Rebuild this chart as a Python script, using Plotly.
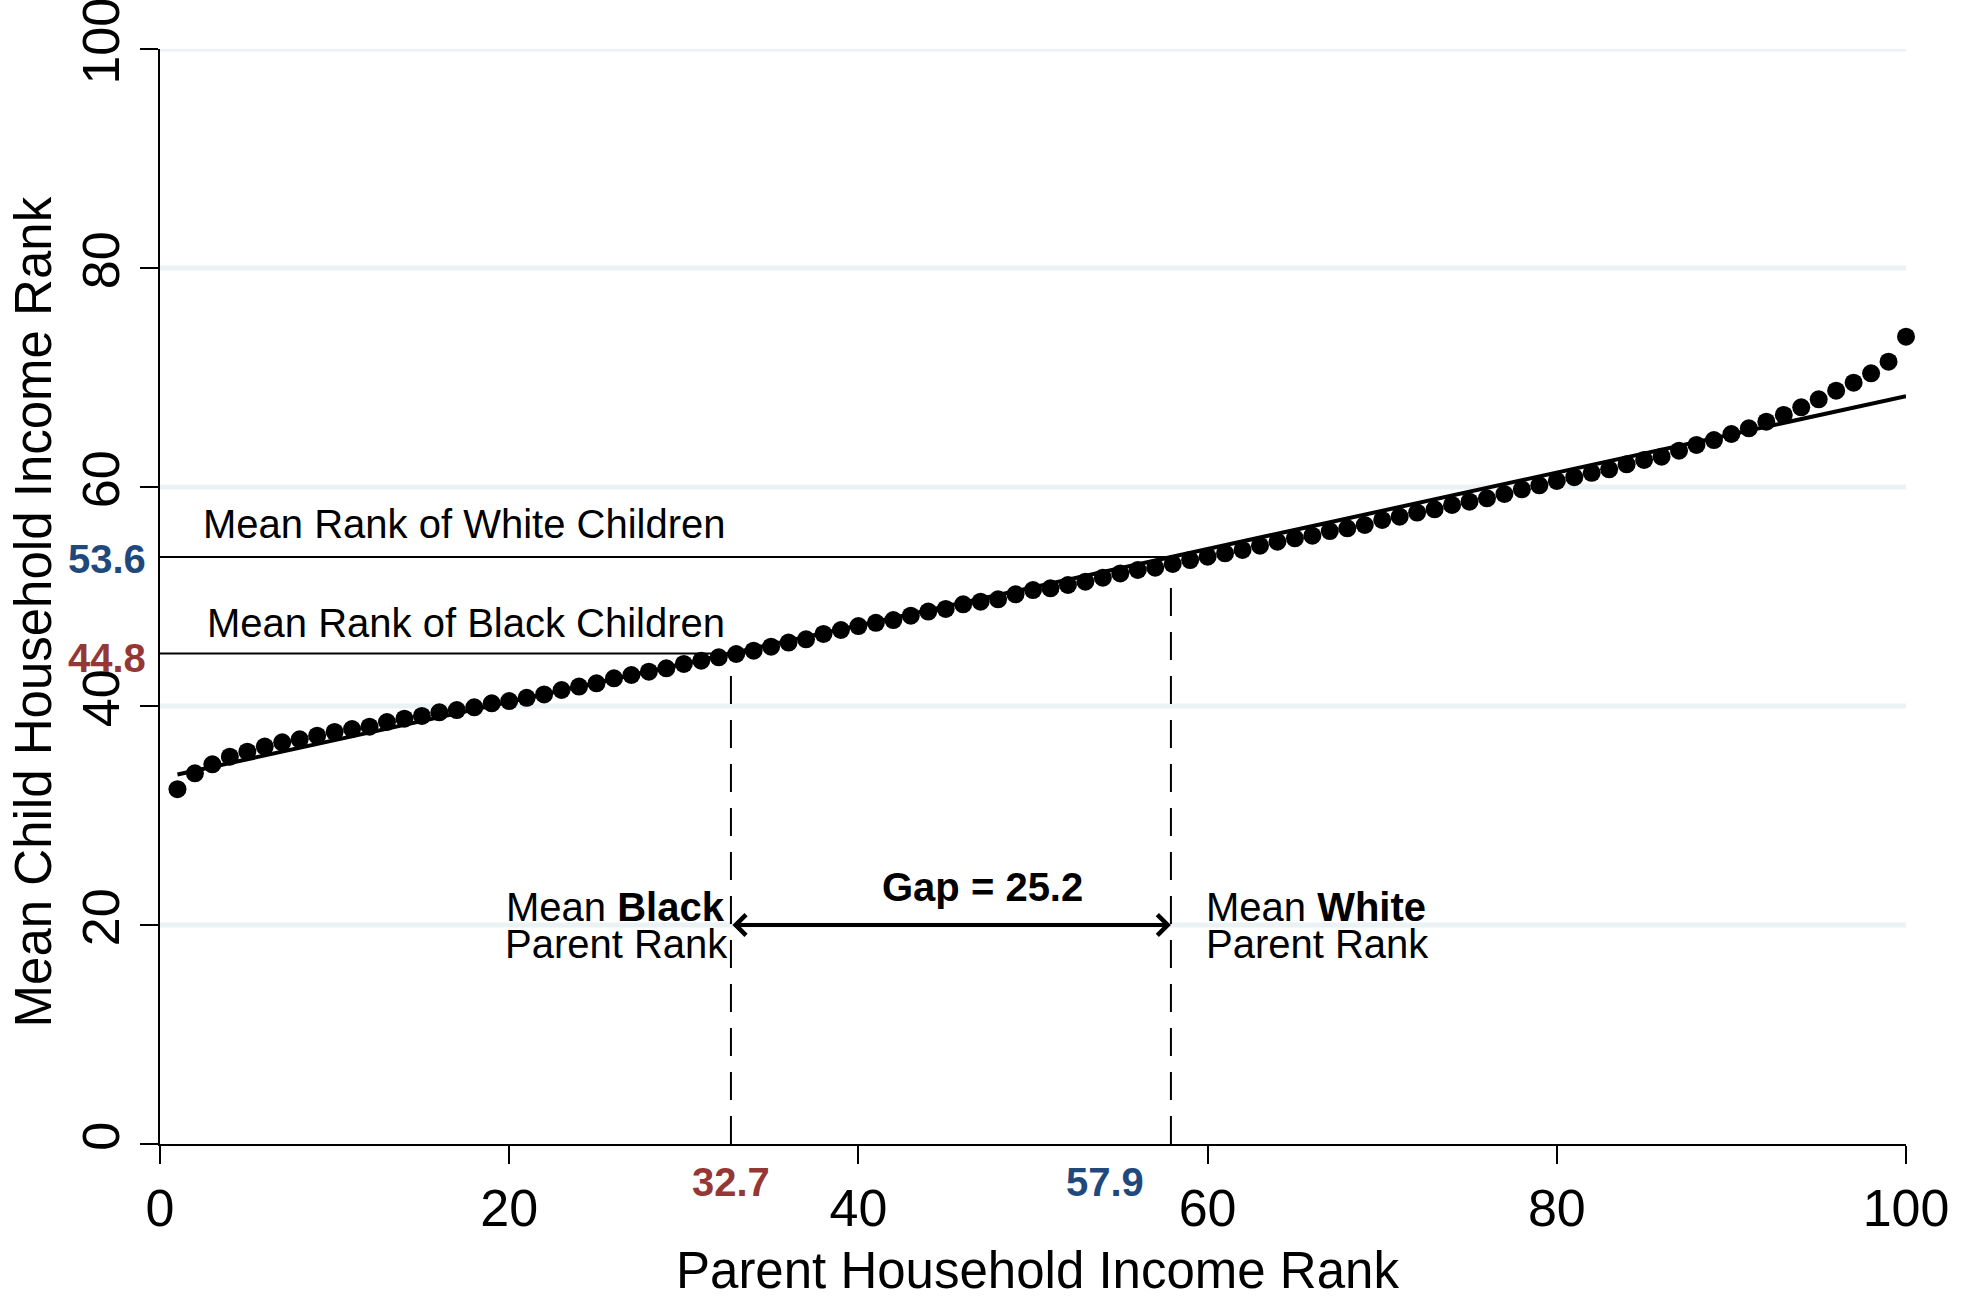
import plotly.graph_objects as go

# ---------------- data ----------------
parent_rank = list(range(1, 101))
child_rank = [
    32.4, 33.85, 34.67, 35.37, 35.83, 36.29, 36.68, 36.96, 37.29, 37.63,
    37.9, 38.11, 38.54, 38.84, 39.09, 39.42, 39.63, 39.88, 40.24, 40.45,
    40.75, 41.06, 41.46, 41.77, 42.07, 42.53, 42.83, 43.13, 43.44, 43.84,
    44.14, 44.45, 44.75, 45.05, 45.42, 45.79, 46.09, 46.58, 46.94, 47.3,
    47.6, 47.85, 48.25, 48.62, 48.86, 49.29, 49.53, 49.74, 50.2, 50.59,
    50.75, 51.05, 51.35, 51.72, 52.11, 52.42, 52.63, 52.97, 53.33, 53.64,
    53.94, 54.25, 54.64, 55.0, 55.31, 55.55, 55.98, 56.23, 56.53, 56.99,
    57.29, 57.66, 57.96, 58.36, 58.66, 58.97, 59.36, 59.79, 60.15, 60.55,
    60.9, 61.3, 61.61, 62.07, 62.47, 62.77, 63.32, 63.84, 64.29, 64.84,
    65.36, 65.97, 66.58, 67.28, 68.01, 68.8, 69.53, 70.38, 71.44, 73.73,
]
fit_x = [1, 100]
fit_y = [33.74, 68.3]

black_parent_mean = 32.7
white_parent_mean = 57.9
black_child_mean = 44.8
white_child_mean = 53.6
gap = 25.2
arrow_y = 20

tick_vals = [0, 20, 40, 60, 80, 100]
grid_vals = [20, 40, 60, 80, 100]

x_title = "Parent Household Income Rank"
y_title = "Mean Child Household Income Rank"

BLUE = "#1F497D"
RED = "#953735"
FONT = "Liberation Sans, Arial, sans-serif"

fig = go.Figure()

fig.add_trace(go.Scatter(
    x=fit_x, y=fit_y, mode="lines",
    line=dict(color="black", width=4), showlegend=False, hoverinfo="skip",
))
fig.add_trace(go.Scatter(
    x=parent_rank, y=child_rank, mode="markers",
    marker=dict(color="black", size=18, line=dict(width=0)),
    showlegend=False, cliponaxis=False,
))

shapes = []
for g in grid_vals:
    shapes.append(dict(type="line", xref="x", yref="y", x0=0, x1=100, y0=g, y1=g,
                       line=dict(color="#EAF2F3", width=5), layer="below"))
# mean-rank horizontal lines
shapes.append(dict(type="line", xref="x", yref="y", x0=0, x1=white_parent_mean,
                   y0=white_child_mean, y1=white_child_mean,
                   line=dict(color="black", width=2)))
shapes.append(dict(type="line", xref="x", yref="y", x0=0, x1=black_parent_mean,
                   y0=black_child_mean, y1=black_child_mean,
                   line=dict(color="black", width=2)))
# dashed verticals
shapes.append(dict(type="line", xref="x", yref="y", x0=black_parent_mean, x1=black_parent_mean,
                   y0=0, y1=black_child_mean,
                   line=dict(color="black", width=2, dash="28px,16px")))
shapes.append(dict(type="line", xref="x", yref="y", x0=white_parent_mean, x1=white_parent_mean,
                   y0=0, y1=white_child_mean,
                   line=dict(color="black", width=2, dash="28px,16px")))

ann = []
tf = dict(family=FONT, size=40, color="black")
ann.append(dict(x=2.35, y=56.6, xref="x", yref="y", text="Mean Rank of White Children",
                showarrow=False, xanchor="left", yanchor="middle", font=tf))
ann.append(dict(x=2.6, y=47.6, xref="x", yref="y", text="Mean Rank of Black Children",
                showarrow=False, xanchor="left", yanchor="middle", font=tf))
ann.append(dict(x=-0.0068, y=white_child_mean, xref="paper", yref="y",
                text="<b>%.1f</b>" % white_child_mean, showarrow=False,
                xanchor="right", yanchor="middle", yshift=-2,
                font=dict(family=FONT, size=40, color=BLUE)))
ann.append(dict(x=-0.0068, y=black_child_mean, xref="paper", yref="y",
                text="<b>%.1f</b>" % black_child_mean, showarrow=False,
                xanchor="right", yanchor="middle", yshift=-5,
                font=dict(family=FONT, size=40, color=RED)))
ann.append(dict(x=black_parent_mean, y=-0.0343, xref="x", yref="paper",
                text="<b>%.1f</b>" % black_parent_mean, showarrow=False,
                xanchor="center", yanchor="middle",
                font=dict(family=FONT, size=40, color=RED)))
ann.append(dict(x=56.45, y=-0.0343, xref="x", yref="paper",
                text="<b>%.1f</b>" % white_parent_mean, showarrow=False,
                xanchor="right", yanchor="middle",
                font=dict(family=FONT, size=40, color=BLUE)))
ann.append(dict(x=black_parent_mean, y=21.6, xref="x", yref="y", text="Mean <b>Black</b>",
                showarrow=False, xanchor="right", yanchor="middle", xshift=-4, font=tf))
ann.append(dict(x=black_parent_mean, y=18.3, xref="x", yref="y", text="Parent Rank",
                showarrow=False, xanchor="right", yanchor="middle", xshift=-1, font=tf))
ann.append(dict(x=59.8, y=21.6, xref="x", yref="y", text="Mean <b>White</b>",
                showarrow=False, xanchor="left", yanchor="middle", font=tf))
ann.append(dict(x=59.8, y=18.3, xref="x", yref="y", text="Parent Rank",
                showarrow=False, xanchor="left", yanchor="middle", font=tf))
ann.append(dict(x=47.1, y=23.5, xref="x", yref="y", text="<b>Gap = %.1f</b>" % gap,
                showarrow=False, xanchor="center", yanchor="middle", font=tf))
ann.append(dict(x=white_parent_mean, y=arrow_y, ax=black_parent_mean, ay=arrow_y,
                xref="x", yref="y", axref="x", ayref="y", text="",
                showarrow=True, arrowhead=4, startarrowhead=4, arrowside="end+start",
                arrowwidth=4, arrowsize=1, startarrowsize=1, standoff=0, startstandoff=0,
                arrowcolor="black"))
# axis titles (placed as annotations to match the reference offsets)
ann.append(dict(x=0.5028, y=-0.1158, xref="paper", yref="paper", text=x_title,
                showarrow=False, xanchor="center", yanchor="middle",
                font=dict(family=FONT, size=51, color="black")))
ann.append(dict(x=-0.0722, y=0.4863, xref="paper", yref="paper", text=y_title,
                showarrow=False, xanchor="center", yanchor="middle", textangle=-90,
                font=dict(family=FONT, size=51, color="black")))

fig.update_layout(
    width=1969, height=1296,
    margin=dict(l=160, r=63, t=49, b=152),
    paper_bgcolor="white", plot_bgcolor="white",
    font=dict(family=FONT, color="black"),
    shapes=shapes, annotations=ann,
    showlegend=False,
)
fig.update_xaxes(
    range=[0, 100], tickvals=tick_vals, showgrid=False, zeroline=False,
    showline=True, linecolor="black", linewidth=2, automargin=False,
    ticks="outside", ticklen=18, tickwidth=2, tickcolor="black",
    tickfont=dict(family=FONT, size=52, color="black"),
)
fig.update_yaxes(
    range=[0, 100], tickvals=tick_vals, showgrid=False, zeroline=False,
    showline=True, linecolor="black", linewidth=2, automargin=False,
    ticks="outside", ticklen=18, tickwidth=2, tickcolor="black", tickangle=-90,
    ticklabeloverflow="allow",
    tickfont=dict(family=FONT, size=52, color="black"),
)

fig.write_html("out.html", config={"displayModeBar": False},
               post_script="document.body.style.margin='0';")
